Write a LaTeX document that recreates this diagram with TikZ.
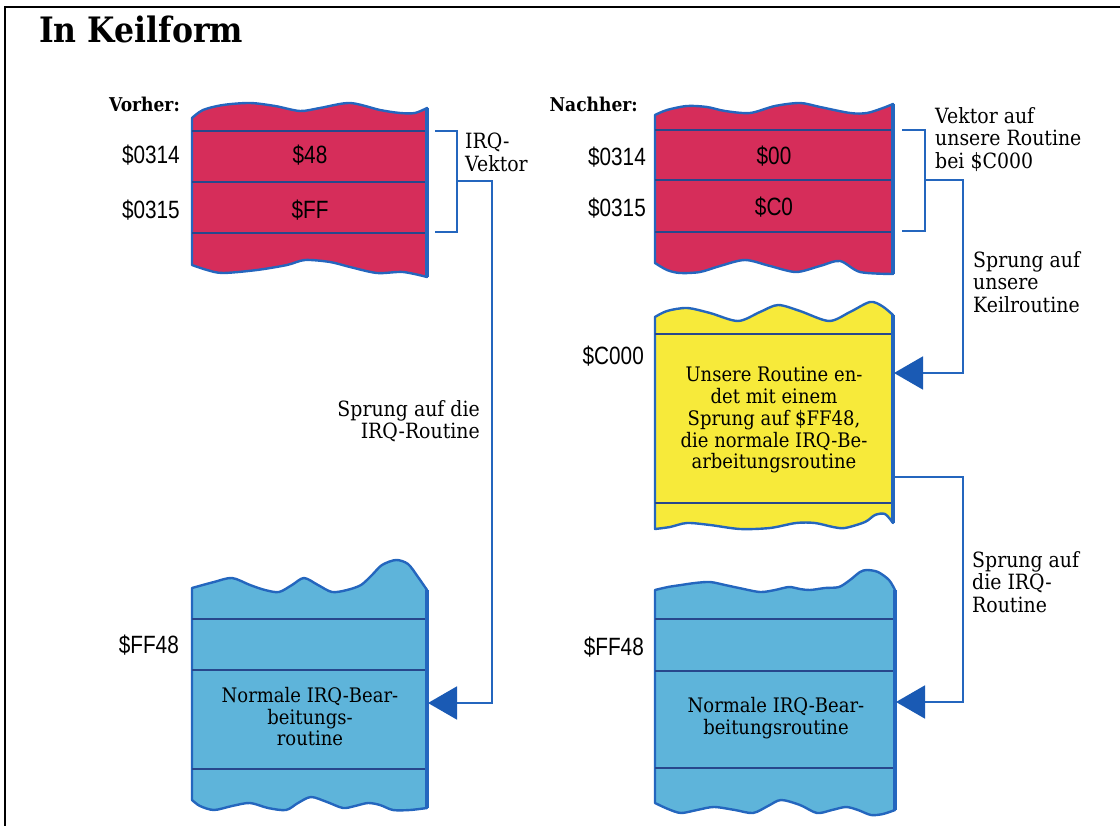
\documentclass[tikz,border=0pt]{standalone}
\usepackage{fontspec}
\setmainfont[FakeStretch=0.9]{DejaVu Serif}
\newfontfamily\addrfont[FakeStretch=0.83]{Liberation Sans}
\usepackage{tikz}
\usetikzlibrary{arrows.meta,positioning}
\definecolor{cellRed}{HTML}{D62D5A}
\definecolor{cellYellow}{HTML}{F7EA3A}
\definecolor{cellBlue}{HTML}{5EB4DA}
\definecolor{edgeBlue}{HTML}{2466BE}
\definecolor{sepBlue}{HTML}{27478C}
\definecolor{tipBlue}{HTML}{1A5AB4}
\tikzstyle{memBox} = [draw=edgeBlue, line width=2.4pt, line join=round]
\tikzstyle{memRed} = [memBox, fill=cellRed]
\tikzstyle{memYellow} = [memBox, fill=cellYellow]
\tikzstyle{memBlue} = [memBox, fill=cellBlue]
\tikzstyle{rowLine} = [draw=sepBlue, line width=1.4pt]
\tikzstyle{edgeLine} = [draw=edgeBlue, line width=3.6pt]
\tikzstyle{addrText} = [font=\addrfont\fontsize{25}{25}\selectfont, inner sep=0pt]
\tikzstyle{addrNode} = [addrText, anchor=east]
\tikzstyle{noteNode} = [font=\fontsize{21}{22.5}\selectfont, inner sep=0pt, align=left, anchor=north west]
\tikzstyle{boxNote} = [font=\fontsize{20}{21.7}\selectfont, inner sep=0pt, align=center, anchor=north]
\tikzstyle{headNode} = [font=\bfseries\fontsize{19}{19}\selectfont, inner sep=0pt, anchor=base east]
\tikzstyle{link} = [draw=edgeBlue, line width=1.8pt]
\tikzstyle{arrowJump} = [link, -{Triangle[length=29pt,width=33pt,color=tipBlue]}]

\begin{document}
\begin{tikzpicture}[x=1pt, y=-1pt]
    \useasboundingbox (0,0) rectangle (1120,826);
    \draw[line width=2pt] (1120,7) -- (5,7) -- (5,826);
    \node (title) [font=\bfseries\fontsize{35}{35}\selectfont, inner sep=0pt, anchor=base west] at (39,43) {In Keilform};

    % vorher
    \draw[memRed] plot[smooth] coordinates {(192,118) (203,110) (223,105) (250,103) (275,106) (300,111) (320,108) (350,103) (380,110) (400,113) (415,113) (427,108)}
        -- plot[smooth] coordinates {(427,277) (403,272) (377,273) (350,267) (330,262) (305,260) (287,265) (257,270) (223,273) (207,270) (192,265)} -- cycle;
    \foreach \y in {131,182,233} \draw[rowLine] (192,\y) -- (427,\y);
    \draw[edgeLine] (427,108) -- (427,277);

    \draw[memBlue] plot[smooth] coordinates {(192,588) (214,582) (232,578) (250,585) (265,590) (279,592) (292,585) (304,578) (318,585) (332,592) (347,590) (361,585) (372,575) (382,565) (396,560) (408,564) (418,577) (427,590)}
        -- plot[smooth] coordinates {(427,808) (410,810) (393,810) (380,805) (368,803) (355,806) (343,808) (327,802) (311,797) (298,803) (286,810) (268,808) (250,803) (232,806) (214,810) (200,806) (192,800)} -- cycle;
    \foreach \y in {619,670,769} \draw[rowLine] (192,\y) -- (427,\y);
    \draw[edgeLine] (427,590) -- (427,808);

    % nachher
    \draw[memRed] plot[smooth] coordinates {(655,115) (667,110) (687,106) (707,107) (725,111) (750,113) (775,106) (800,103) (820,107) (850,113) (867,113) (883,108) (893,104)}
        -- plot[smooth] coordinates {(893,274) (860,272) (840,261) (820,266) (796,272) (770,266) (745,260) (720,266) (700,272) (680,273) (667,270) (655,263)} -- cycle;
    \foreach \y in {130,180,232} \draw[rowLine] (655,\y) -- (893,\y);
    \draw[edgeLine] (893,104) -- (893,274);

    \draw[memYellow] plot[smooth] coordinates {(655,317) (667,311) (687,308) (710,313) (738,321) (760,312) (778,305) (800,311) (829,321) (850,312) (870,302) (882,306) (893,315)}
        -- plot[smooth] coordinates {(893,523) (885,514) (875,515) (865,522) (845,528) (833,527) (815,523) (796,523) (770,528) (740,529) (710,525) (687,523) (670,527) (655,529)} -- cycle;
    \foreach \y in {334,503} \draw[rowLine] (655,\y) -- (893,\y);
    \draw[edgeLine] (893,315) -- (893,523);

    \draw[memBlue] plot[smooth] coordinates {(655,590) (668,587) (681,585) (695,583) (710,582) (725,585) (739,588) (760,592) (775,590) (789,587) (800,589) (810,590) (825,588) (839,587) (850,580) (860,572) (867,570) (878,572) (889,580) (895,590)}
        -- plot[smooth] coordinates {(895,810) (883,814) (871,815) (858,810) (846,807) (832,810) (817,813) (800,805) (781,800) (768,806) (753,813) (735,810) (714,807) (697,810) (681,813) (668,809) (655,803)} -- cycle;
    \foreach \y in {619,671,768} \draw[rowLine] (655,\y) -- (895,\y);
    \draw[edgeLine] (895,590) -- (895,810);

    \node (vorher) [headNode] at (180,112) {Vorher:};
    \node (nachher) [headNode] at (638,112) {Nachher:};

    \node (vLo) [addrNode] at (180,155) {\$0314};
    \node (vHi) [addrNode] at (180,210) {\$0315};
    \node (vLoVal) [addrText] at (310,155) {\$48};
    \node (vHiVal) [addrText] at (310,210) {\$FF};
    \node (vIrq) [addrNode] at (179,645) {\$FF48};
    \node (vIrqText) [boxNote] at (310,687) {Normale IRQ-Bear-\\beitungs-\\routine};

    \node (nLo) [addrNode] at (646,157) {\$0314};
    \node (nHi) [addrNode] at (646,208) {\$0315};
    \node (nLoVal) [addrText] at (774,156) {\$00};
    \node (nHiVal) [addrText] at (774,207) {\$C0};
    \node (nKeil) [addrNode] at (644,356) {\$C000};
    \node (nKeilText) [boxNote] at (774,367) {Unsere Routine en-\\det mit einem\\Sprung auf \$FF48,\\die normale IRQ-Be-\\arbeitungsroutine};
    \node (nIrq) [addrNode] at (644,647) {\$FF48};
    \node (nIrqText) [boxNote] at (776,697) {Normale IRQ-Bear-\\beitungsroutine};

    \node (vVecText) [noteNode] at (465,133) {IRQ-\\Vektor};
    \node (vJumpText) [noteNode, align=right, anchor=north east] at (480,400) {Sprung auf die\\IRQ-Routine};
    \node (nVecText) [noteNode] at (935,107) {Vektor auf\\unsere Routine\\bei \$C000};
    \node (nKeilJump) [noteNode] at (973,251) {Sprung auf\\unsere\\Keilroutine};
    \node (nIrqJump) [noteNode] at (972,551) {Sprung auf\\die IRQ-\\Routine};

    \coordinate (vVecTop) at (435,131);
    \coordinate (vVecBot) at (435,232);
    \coordinate (vVecMid) at (457,181);
    \coordinate (vIrqIn) at (428,703);
    \coordinate (nVecTop) at (902,130);
    \coordinate (nVecBot) at (902,231);
    \coordinate (nVecMid) at (925,180);
    \coordinate (nKeilIn) at (894,373);
    \coordinate (nKeilOut) at (893,477);
    \coordinate (nIrqIn) at (896,702);

    \draw [link] (vVecTop) -| (vVecMid) |- (vVecBot);
    \draw [arrowJump] (vVecMid) -- ++(35,0) |- (vIrqIn);
    \draw [link] (nVecTop) -| (nVecMid) |- (nVecBot);
    \draw [arrowJump] (nVecMid) -- ++(38,0) |- (nKeilIn);
    \draw [arrowJump] (nKeilOut) -- ++(70,0) |- (nIrqIn);
\end{tikzpicture}
\end{document}
